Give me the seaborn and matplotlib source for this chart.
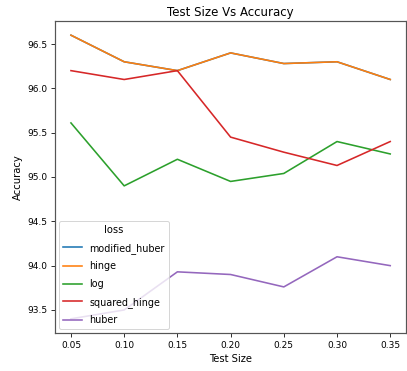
import matplotlib
matplotlib.use("Agg")
import matplotlib.pyplot as plt
import seaborn as sns
import pandas as pd

test_sizes = [0.05, 0.10, 0.15, 0.20, 0.25, 0.30, 0.35]
loss_names = ["modified_huber", "hinge", "log", "squared_hinge", "huber"]
acc_modified_huber = [96.60, 96.30, 96.20, 96.40, 96.28, 96.30, 96.10]
acc_hinge = [96.60, 96.30, 96.20, 96.40, 96.28, 96.30, 96.10]
acc_log = [95.61, 94.90, 95.20, 94.95, 95.04, 95.40, 95.26]
acc_squared_hinge = [96.20, 96.10, 96.20, 95.45, 95.28, 95.13, 95.40]
acc_huber = [93.40, 93.50, 93.93, 93.90, 93.76, 94.10, 94.00]

series = [acc_modified_huber, acc_hinge, acc_log, acc_squared_hinge, acc_huber]
rows = []
for name, vals in zip(loss_names, series):
    for ts, acc in zip(test_sizes, vals):
        rows.append({"Test Size": ts, "Accuracy": acc, "loss": name})
df = pd.DataFrame(rows)

dpi = 72
fig = plt.figure(figsize=(407 / dpi, 371 / dpi), dpi=dpi)
ax = fig.add_axes([55 / 407, 1 - 333 / 371, 1 - 55 / 407 - 0.002, (333 - 21) / 371])
sns.lineplot(data=df, x="Test Size", y="Accuracy", hue="loss", hue_order=loss_names,
             palette="tab10", linewidth=1.6, ax=ax)
ax.set_title("Test Size Vs Accuracy", fontsize=11.8, pad=5)
ax.set_xlabel("Test Size", fontsize=10)
ax.set_ylabel("Accuracy", fontsize=10)
ax.set_xticks(test_sizes)
ax.set_xticklabels([f"{t:.2f}" for t in test_sizes])
ax.tick_params(labelsize=9, length=4)
for s in ax.spines.values():
    s.set_color("#555555")
    s.set_linewidth(1.2)
ax.legend(title="loss", loc="lower left", fontsize=9.6, title_fontsize=10,
          labelspacing=0.8, borderaxespad=0.4)
fig.savefig("out.png", dpi=dpi)
